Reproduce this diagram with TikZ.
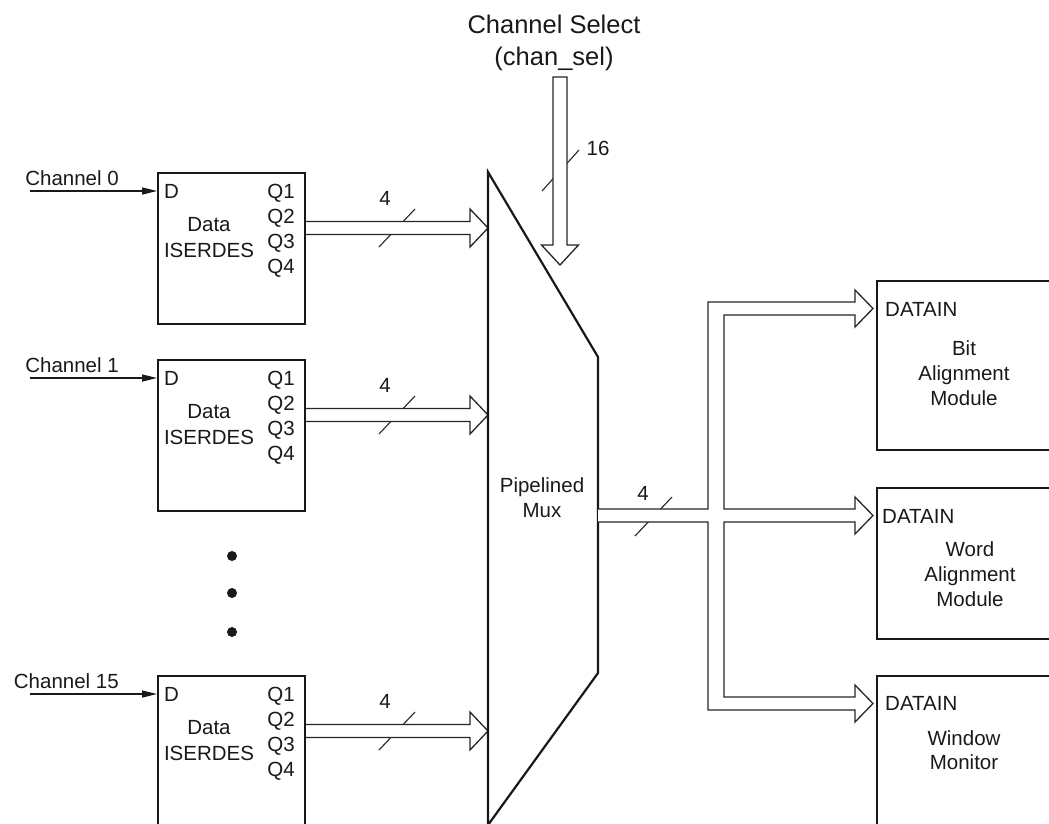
\documentclass[tikz,border=0pt]{standalone}
\usepackage{fontspec}
\setmainfont{Liberation Sans}
\usetikzlibrary{arrows.meta,calc}
\newcommand\serblk[3]{% #1 name, #2 top y, #3 channel label
  \node[blk, minimum width=147pt, minimum height=151pt] (#1) at (157,#2) {};
  \node[anchor=base east] (#1lab) at ($(#1.north west)+(-38,13)$) {#3};
  \coordinate (#1in) at ($(#1.north west)+(-127,19)$);
  \draw[chin] (#1in) -- (#1in -| #1.west);
  \node[anchor=base west] (#1D) at ($(#1.north west)+(7,26)$) {D};
  \node[anchor=base east] (#1qa) at ($(#1.north east)+(-11,26)$) {Q1};
  \node[anchor=base east] (#1qb) at ($(#1.north east)+(-11,51)$) {Q2};
  \node[anchor=base east] (#1qc) at ($(#1.north east)+(-11,76)$) {Q3};
  \node[anchor=base east] (#1qd) at ($(#1.north east)+(-11,101)$) {Q4};
  \node[anchor=base] (#1ta) at ($(#1.north west)+(52,59)$) {Data};
  \node[anchor=base] (#1tb) at ($(#1.north west)+(52,85)$) {ISERDES};
  \coordinate (#1out) at ($(#1.north east)+(0,56)$);
  \coordinate (#1tip) at (#1out -| mtl);
  \draw[slashln] ($(#1out)+(73,19)$) -- ++(36,-38);
  \draw[bus] ($(#1out)+(0,-6.5)$) -- ($(#1tip)+(-18,-6.5)$) -- ($(#1tip)+(-18,-19)$)
     -- (#1tip) -- ($(#1tip)+(-18,19)$) -- ($(#1tip)+(-18,6.5)$) -- ($(#1out)+(0,6.5)$);
  \node (#1w) at ($(#1out)+(79,-30)$) {4};
}
\begin{document}
\begin{tikzpicture}[x=1pt,y=-1pt,
  every node/.style={font=\fontsize{20.5}{25}\selectfont, inner sep=0pt, text=black!90},
  blk/.style={draw=black!90, line width=2pt, anchor=north west},
  bus/.style={draw=black!85, fill=white, line width=1.3pt, line join=miter},
  slashln/.style={draw=black!85, line width=1.1pt},
  chin/.style={draw=black!90, line width=1.3pt, -{Triangle[length=15pt,width=7pt]}},
  bigtxt/.style={font=\fontsize{25.5}{30}\selectfont, anchor=base},
  dot/.style={circle, fill=black!90, minimum size=10pt}
]
\useasboundingbox (0,0) rectangle (1049,823);
\clip (0,0) rectangle (1049,823);

% mux corners
\coordinate (mtl) at (488,172);
\coordinate (mtr) at (598,357);
\coordinate (mbr) at (598,673);
\coordinate (mbl) at (488,825);

% ISERDES blocks
\serblk{sa}{172}{Channel 0}
\serblk{sb}{359}{Channel 1}
\serblk{sc}{675}{Channel 15}

% dots
\node[dot] (d1) at (232,556) {};
\node[dot] (d2) at (232,593) {};
\node[dot] (d3) at (232,632) {};

% mux
\draw[draw=black!90, line width=2.2pt, line join=miter] (mtl) -- (mtr) -- (mbr) -- (mbl) -- cycle;
\node[anchor=base] (muxa) at (542,492) {Pipelined};
\node[anchor=base] (muxb) at (542,517) {Mux};

% channel select
\node[bigtxt] (csa) at (554,33) {Channel Select};
\node[bigtxt] (csb) at (554,65) {(chan\_sel)};
\coordinate (cstop) at (560,77);
\coordinate (cstip) at (560,265);
\draw[slashln] (542,191) -- (579,150);
\draw[bus] ($(cstop)+(-7,0)$) -- ($(cstop)+(7,0)$) -- ($(cstip)+(7,-20)$) -- ($(cstip)+(18.5,-20)$)
   -- (cstip) -- ($(cstip)+(-18.5,-20)$) -- ($(cstip)+(-7,-20)$) -- cycle;
\node (cs16) at (598,148) {16};

% right blocks
\node[blk, minimum width=200pt, minimum height=169pt] (bam) at (876,280) {};
\node[blk, minimum width=200pt, minimum height=151pt] (wam) at (876,487) {};
\node[blk, minimum width=200pt, minimum height=170pt] (wm) at (876,675) {};

\node[anchor=base west] (bamd) at (885,316) {DATAIN};
\node[anchor=base] (bama) at (964,355) {Bit};
\node[anchor=base] (bamb) at (964,380) {Alignment};
\node[anchor=base] (bamc) at (964,405) {Module};

\node[anchor=base west] (wamd) at (882,523) {DATAIN};
\node[anchor=base] (wama) at (970,556) {Word};
\node[anchor=base] (wamb) at (970,581) {Alignment};
\node[anchor=base] (wamc) at (970,606) {Module};

\node[anchor=base west] (wmd) at (885,710) {DATAIN};
\node[anchor=base] (wma) at (964,745) {Window};
\node[anchor=base] (wmb) at (964,769) {Monitor};

% output bus
\coordinate (mout) at (mtr |- 0,515.5);
\coordinate (ta) at ($(bam.north west)+(-3,28.5)$);
\coordinate (tb) at ($(wam.north west)+(-3,28.5)$);
\coordinate (tc) at ($(wm.north west)+(-3,28.5)$);
\draw[slashln] (635,536) -- (672,497);
\draw[bus] ($(mout)+(0,-6.5)$) -- (708,509) -- (708,302) -- ($(ta)+(-18,-6.5)$) -- ($(ta)+(-18,-18.5)$) -- (ta)
  -- ($(ta)+(-18,18.5)$) -- ($(ta)+(-18,6.5)$) -- (724,315) -- (724,509)
  -- ($(tb)+(-18,-6.5)$) -- ($(tb)+(-18,-18.5)$) -- (tb) -- ($(tb)+(-18,18.5)$) -- ($(tb)+(-18,6.5)$)
  -- (724,522) -- (724,697)
  -- ($(tc)+(-18,-6.5)$) -- ($(tc)+(-18,-18.5)$) -- (tc) -- ($(tc)+(-18,18.5)$) -- ($(tc)+(-18,6.5)$)
  -- (708,710) -- (708,522) -- ($(mout)+(0,6.5)$);
\node (outw) at (643,493) {4};
\end{tikzpicture}
\end{document}
